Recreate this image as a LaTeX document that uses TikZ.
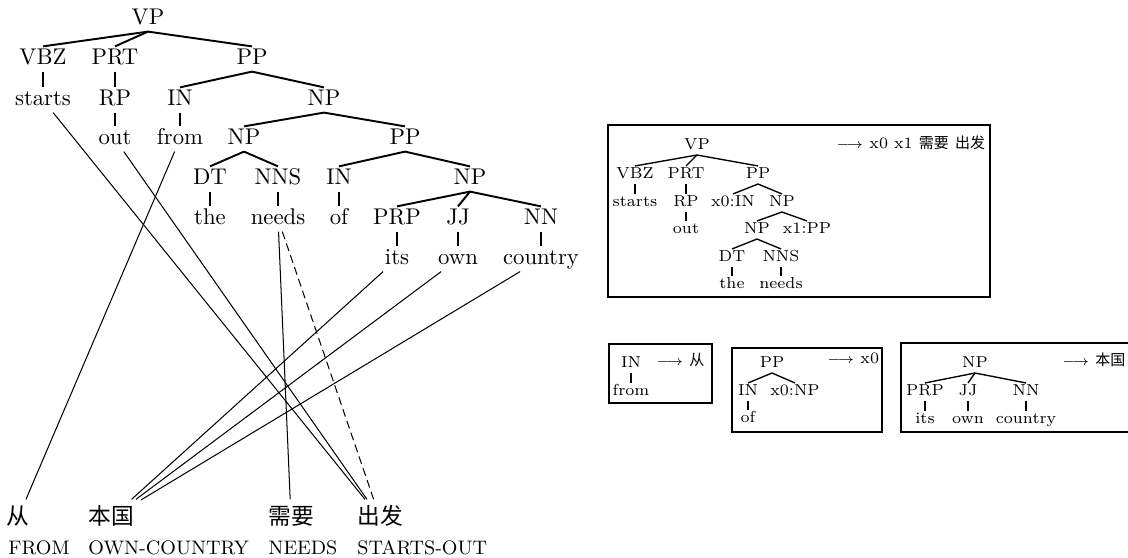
\documentclass[tikz,border=0pt]{standalone}
\usepackage{fontspec}
\newfontfamily\cjk{Noto Sans CJK SC}
\newcommand\zhsfont{\fontsize{6.6}{8}\selectfont\cjk}
\newcommand\rulearrow{{\fontsize{6.2}{7}\selectfont$\longrightarrow$}}
\begin{document}
\begin{tikzpicture}[x=0.44pt,y=-0.44pt,
  tw/.style={font=\fontsize{10}{12}\selectfont, inner sep=1pt, text height=6.8pt, text depth=1.9pt},
  bw/.style={font=\fontsize{7}{8.4}\selectfont, inner sep=0.7pt, text height=4.8pt, text depth=1.35pt},
  zh/.style={font=\fontsize{10}{12}\selectfont\cjk, inner sep=3pt, text height=8pt, text depth=2pt},
  gloss/.style={font=\fontsize{8.6}{10}\selectfont, inner sep=0pt, anchor=base west},
  rhs/.style={font=\fontsize{7}{8.4}\selectfont, inner sep=0pt, anchor=west},
  tedge/.style={line width=0.85pt},
  bedge/.style={line width=0.6pt},
  link/.style={line width=0.45pt},
  rulebox/.style={line width=1.1pt}]
\useasboundingbox (0,0) rectangle (1128,558);

% ---- full parse tree ----
\node[tw] (VP) at (148,19) {VP};
\node[tw] (VBZ) at (43,59) {VBZ};
\node[tw] (PRT) at (115,59) {PRT};
\node[tw] (PPa) at (252,59) {PP};
\node[tw] (starts) at (43,100) {starts};
\node[tw] (RP) at (115,100) {RP};
\node[tw] (INa) at (180,100) {IN};
\node[tw] (NPa) at (324,100) {NP};
\node[tw] (out) at (115,139) {out};
\node[tw] (from) at (180,139) {from};
\node[tw] (NPb) at (244,139) {NP};
\node[tw] (PPb) at (405,139) {PP};
\node[tw] (DT) at (210,179) {DT};
\node[tw] (NNS) at (278,179) {NNS};
\node[tw] (INb) at (339,179) {IN};
\node[tw] (NPc) at (470,179) {NP};
\node[tw] (the) at (210,219) {the};
\node[tw] (needs) at (278,219) {needs};
\node[tw] (of) at (339,219) {of};
\node[tw] (PRP) at (397,219) {PRP};
\node[tw] (JJ) at (458,219) {JJ};
\node[tw] (NN) at (541,219) {NN};
\node[tw] (its) at (397,259) {its};
\node[tw] (own) at (458,259) {own};
\node[tw] (country) at (541,259) {country};

\foreach \p/\c in {VP/VBZ, VP/PRT, VP/PPa, VBZ/starts, PRT/RP, RP/out,
  PPa/INa, PPa/NPa, INa/from, NPa/NPb, NPa/PPb, NPb/DT, NPb/NNS,
  DT/the, NNS/needs, PPb/INb, PPb/NPc, INb/of, NPc/PRP, NPc/JJ, NPc/NN,
  PRP/its, JJ/own, NN/country}
  \draw[tedge] (\p.south) -- (\c.north);

% ---- target words and glosses ----
\node[zh] (cong) at (18,518) {从};
\node[zh] (benguo) at (111,518) {本国};
\node[zh] (xuyao) at (291,518) {需要};
\node[zh] (chufa) at (380,518) {出发};
\node[gloss] (gfrom) at (8,555) {FROM};
\node[gloss] (gown) at (88,555) {OWN-COUNTRY};
\node[gloss] (gneeds) at (268,555) {NEEDS};
\node[gloss] (gstarts) at (357,555) {STARTS-OUT};

% ---- word alignment ----
\draw[link] (starts) -- (chufa);
\draw[link] (out) -- (chufa);
\draw[link] (from) -- (cong);
\draw[link] (needs) -- (xuyao);
\draw[link, dash pattern=on 3.5pt off 2pt] (needs) -- (chufa);
\draw[link] (its) -- (benguo);
\draw[link] (own) -- (benguo);
\draw[link] (country) -- (benguo);

% ---- rule 1 ----
\draw[rulebox] (608,125) rectangle (990,297);
\node[bw] (rVP) at (697,146) {VP};
\node[bw] (rVBZ) at (635,175) {VBZ};
\node[bw] (rPRT) at (686,175) {PRT};
\node[bw] (rPP) at (758,175) {PP};
\node[bw] (rstarts) at (635,203) {starts};
\node[bw] (rRP) at (686,203) {RP};
\node[bw] (rIN) at (733,203) {x0:IN};
\node[bw] (rNP) at (782,203) {NP};
\node[bw] (rout) at (686,230) {out};
\node[bw] (rNPb) at (757,230) {NP};
\node[bw] (rPPb) at (807,230) {x1:PP};
\node[bw] (rDT) at (732,258) {DT};
\node[bw] (rNNS) at (781,258) {NNS};
\node[bw] (rthe) at (732,285) {the};
\node[bw] (rneeds) at (781,285) {needs};
\foreach \p/\c in {rVP/rVBZ, rVP/rPRT, rVP/rPP, rVBZ/rstarts, rPRT/rRP, rRP/rout,
  rPP/rIN, rPP/rNP, rNP/rNPb, rNP/rPPb, rNPb/rDT, rNPb/rNNS, rDT/rthe, rNNS/rneeds}
  \draw[bedge] (\p.south) -- (\c.north);
\node[rhs] (rhsA) at (836,143) {\rulearrow\ x0 x1 {\zhsfont 需要} {\zhsfont 出发}};

% ---- rule 2 ----
\draw[rulebox] (609,344) rectangle (712,403);
\node[bw] (sIN) at (631,364) {IN};
\node[bw] (sfrom) at (631,392) {from};
\draw[bedge] (sIN.south) -- (sfrom.north);
\node[rhs] (rhsB) at (656,360) {\rulearrow\ {\zhsfont 从}};

% ---- rule 3 ----
\draw[rulebox] (732,348) rectangle (882,432);
\node[bw] (tPP) at (772,364) {PP};
\node[bw] (tIN) at (748,392) {IN};
\node[bw] (tNP) at (795,392) {x0:NP};
\node[bw] (tof) at (748,419) {of};
\foreach \p/\c in {tPP/tIN, tPP/tNP, tIN/tof}
  \draw[bedge] (\p.south) -- (\c.north);
\node[rhs] (rhsC) at (827,358) {\rulearrow\ x0};

% ---- rule 4 (runs past the right edge) ----
\draw[rulebox] (1134,343) -| (901,432) -- (1134,432);
\node[bw] (uNP) at (975,364) {NP};
\node[bw] (uPRP) at (925,392) {PRP};
\node[bw] (uJJ) at (968,392) {JJ};
\node[bw] (uNN) at (1026,392) {NN};
\node[bw] (uits) at (925,420) {its};
\node[bw] (uown) at (968,420) {own};
\node[bw] (ucountry) at (1026,420) {country};
\foreach \p/\c in {uNP/uPRP, uNP/uJJ, uNP/uNN, uPRP/uits, uJJ/uown, uNN/ucountry}
  \draw[bedge] (\p.south) -- (\c.north);
\node[rhs] (rhsD) at (1062,360) {\rulearrow\ {\zhsfont 本国}};
\end{tikzpicture}
\end{document}
